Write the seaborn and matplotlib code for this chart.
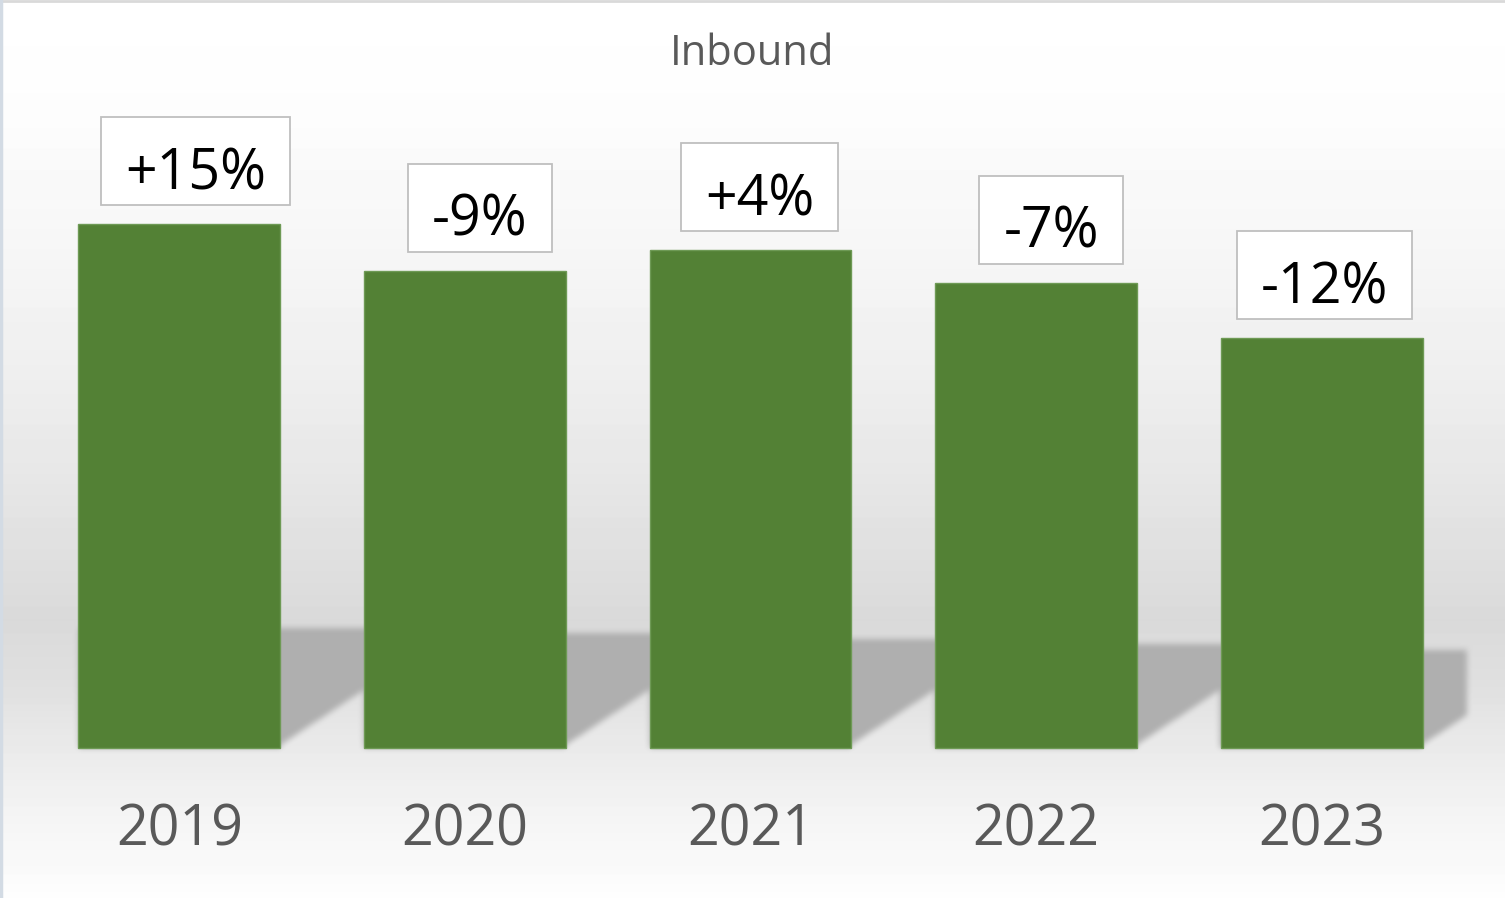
import matplotlib
matplotlib.use("Agg")
import matplotlib.pyplot as plt
import numpy as np
import pandas as pd
import seaborn as sns
from matplotlib.patches import Rectangle

# values (bar heights in pixels, no axis shown)
years = ["2019", "2020", "2021", "2022", "2023"]
inbound = [524, 477, 498, 465, 410]
changes = ["+15%", "-9%", "+4%", "-7%", "-12%"]

GREEN = "#538135"
TEXT_GREY = "#595959"
W, H = 1505, 898
PX_PER_BAR = 285.5


def box_blur(a, k):
    # cheap separable box blur, run twice below to look a bit gaussian
    p = k // 2
    for axis in (0, 1):
        pads = [(0, 0), (0, 0)]
        pads[axis] = (p, p)
        b = np.pad(a, pads, mode="edge")
        c = np.cumsum(b, axis=axis)
        zero = np.zeros((1, c.shape[1])) if axis == 0 else np.zeros((c.shape[0], 1))
        c = np.concatenate([zero, c], axis=axis)
        if axis == 0:
            a = (c[k:] - c[:-k]) / k
        else:
            a = (c[:, k:] - c[:, :-k]) / k
    return a


sns.set_theme(style="white")
plt.rcParams["font.family"] = ["Open Sans", "DejaVu Sans"]

fig = plt.figure(figsize=(W / 100, H / 100), dpi=100)
ax = fig.add_axes([0, 0, 1, 1])

df = pd.DataFrame({"year": years, "inbound": inbound})
sns.barplot(data=df, x="year", y="inbound", color=GREEN, width=0.7075,
            saturation=1, edgecolor="#6e9a55", linewidth=1, zorder=3, ax=ax)

ax.set_xlim(-0.6287, 4.6427)
ax.set_ylim(-150, 748)
x0, x1 = ax.get_xlim()
y0, y1 = ax.get_ylim()

# background: wall fading to grey, lighter floor below
rows = np.arange(H)
g = np.interp(rows,
              [0, 120, 300, 450, 560, 620, 680, 750, 800, 898],
              [1.0, 0.99, 0.955, 0.915, 0.875, 0.855, 0.875, 0.92, 0.95, 0.995])
img = np.repeat(g[:, None], W, axis=1)

# shadows cast by the bars onto the wall
X, Y = np.meshgrid(np.linspace(x0, x1, W), np.linspace(y1, y0, H))
mask = np.zeros_like(img)
tops = np.linspace(120, 98, len(ax.patches))
slope = 188
wall_end = 4.51
for bar, top in zip(ax.patches, tops):
    left = bar.get_x()
    right = left + bar.get_width()
    floor = np.where(X > right, 3 + (X - right) * slope, 0)
    inside = (X >= left) & (X <= min(right + 0.35, wall_end)) & (Y <= top) & (Y >= floor)
    mask[inside] = 1
mask = box_blur(box_blur(mask, 7), 7)
img = img + (0.685 - img) * mask

ax.imshow(img, cmap="gray", vmin=0, vmax=1, extent=[x0, x1, y0, y1],
          aspect="auto", origin="upper", zorder=0, interpolation="bilinear")
ax.set_xlim(x0, x1)
ax.set_ylim(y0, y1)
ax.axis("off")

# change labels above the bars, boxes sized from the text afterwards
label_dx = [16, 15, 9, 15, 3]
labels = []
for i, (h, lab) in enumerate(zip(inbound, changes)):
    t = ax.text(i + label_dx[i] / PX_PER_BAR, h + 35, lab, ha="center", va="baseline",
                fontsize=40, color="black", zorder=5)
    labels.append(t)

for i, yr in enumerate(years):
    ax.text(i, -97, yr, ha="center", va="baseline", fontsize=40, color=TEXT_GREY, zorder=5)

fig.text(0.5, 1 - 65 / H, "Inbound", ha="center", va="baseline", fontsize=30, color=TEXT_GREY)

fig.canvas.draw()
renderer = fig.canvas.get_renderer()
inv = ax.transData.inverted()
pad = 24 / PX_PER_BAR
for t, h in zip(labels, inbound):
    bb = t.get_window_extent(renderer)
    xa = inv.transform((bb.x0, 0))[0]
    xb = inv.transform((bb.x1, 0))[0]
    ax.add_patch(Rectangle((xa - pad, h + 19), xb - xa + 2 * pad, 88,
                           fc="white", ec="#bfbfbf", lw=1.3, zorder=4))

# thin chart-area border on top and left
fig.add_artist(plt.Line2D([0, 1], [1 - 1 / H, 1 - 1 / H], color="#d9d9d9", lw=2,
                          transform=fig.transFigure))
fig.add_artist(plt.Line2D([1.5 / W, 1.5 / W], [0, 1], color="#d3dbe4", lw=2.5,
                          transform=fig.transFigure))

fig.savefig("out.png", dpi=100)
